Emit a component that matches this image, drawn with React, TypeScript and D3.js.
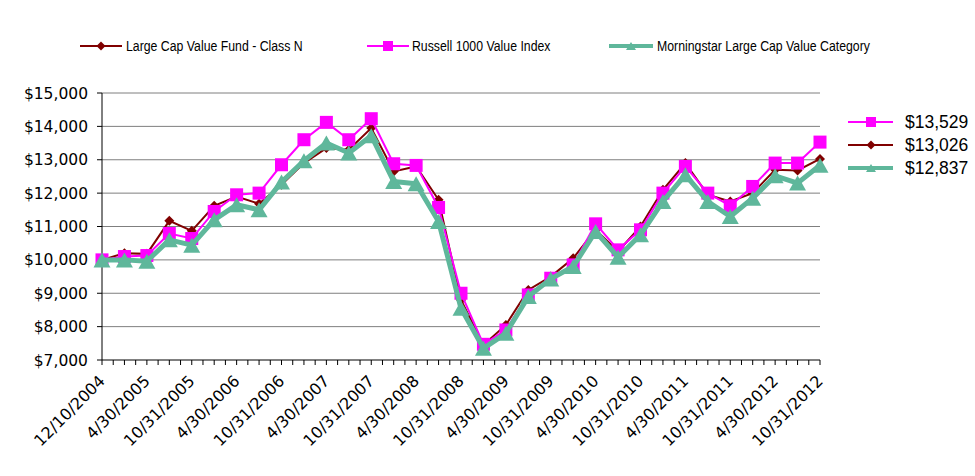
import React from "react";
import * as d3 from "d3";

const dates = ["12/10/2004","1/31/2005","4/30/2005","7/31/2005","10/31/2005","1/31/2006","4/30/2006","7/31/2006","10/31/2006","1/31/2007","4/30/2007","7/31/2007","10/31/2007","1/31/2008","4/30/2008","7/31/2008","10/31/2008","1/31/2009","4/30/2009","7/31/2009","10/31/2009","1/31/2010","4/30/2010","7/31/2010","10/31/2010","1/31/2011","4/30/2011","7/31/2011","10/31/2011","1/31/2012","4/30/2012","7/31/2012","10/31/2012"];

const fundValues = [10000,10200,10180,11170,10870,11620,11900,11680,12250,12900,13350,13300,13950,12650,12800,11800,8800,7450,8050,9100,9500,10050,10900,10250,11000,12100,12900,11950,11750,12000,12700,12680,13026];
const russellValues = [10000,10100,10130,10790,10640,11450,11950,12000,12850,13600,14120,13600,14230,12880,12830,11570,9000,7470,7900,8950,9450,9850,11080,10300,10900,12000,12800,12000,11620,12200,12900,12900,13529];
const morningstarValues = [10000,10000,9960,10600,10440,11200,11650,11500,12330,12970,13500,13200,13720,12350,12280,11150,8550,7350,7800,8900,9430,9800,10850,10080,10750,11750,12550,11750,11300,11850,12520,12300,12837];

const seriesNames = ["Large Cap Value Fund - Class N", "Russell 1000 Value Index", "Morningstar Large Cap Value Category"];
const endLabels = ["$13,529", "$13,026", "$12,837"];
const yTicks = [7000, 8000, 9000, 10000, 11000, 12000, 13000, 14000, 15000];

const FUND = "#800000";
const RUSSELL = "#FF00FF";
const MS = "#5FB79B";

const x = d3.scaleLinear().domain([0, dates.length - 1]).range([102, 820]);
const y = d3.scaleLinear().domain([7000, 15000]).range([360, 93]);
const fmt = (v: number) => "$" + d3.format(",")(v);

function Diamond({ cx, cy, r, color }: { cx: number; cy: number; r: number; color: string }) {
  return <path d={`M${cx},${cy - r}L${cx + r},${cy}L${cx},${cy + r}L${cx - r},${cy}Z`} fill={color} />;
}
function Square({ cx, cy, s, color }: { cx: number; cy: number; s: number; color: string }) {
  return <rect x={cx - s / 2} y={cy - s / 2} width={s} height={s} fill={color} />;
}
function Tri({ cx, cy, w, h, color }: { cx: number; cy: number; w: number; h: number; color: string }) {
  return <path d={`M${cx},${cy - h / 2}L${cx + w / 2},${cy + h / 2}L${cx - w / 2},${cy + h / 2}Z`} fill={color} />;
}

export default function App() {
  const line = d3.line<number>().x((_, i) => x(i)).y((v) => y(v));
  const halfTicks = d3.range(0, (dates.length - 1) * 2 + 1).map((i) => i / 2);
  const narrow = "'Liberation Sans', Arial, sans-serif";
  const gothic = "'DejaVu Sans', sans-serif";

  const legendTop = [
    { lx0: 80, lx1: 122, tx: 126, name: seriesNames[0], kind: "fund" },
    { lx0: 367, lx1: 409, tx: 412, name: seriesNames[1], kind: "russell" },
    { lx0: 609, lx1: 653, tx: 657, name: seriesNames[2], kind: "ms" },
  ];
  const legendRight = [
    { yy: 122, label: endLabels[0], kind: "russell" },
    { yy: 145, label: endLabels[1], kind: "fund" },
    { yy: 168, label: endLabels[2], kind: "ms" },
  ];

  const marker = (kind: string, cx: number, cy: number, small: boolean) => {
    if (kind === "fund") return <Diamond cx={cx} cy={cy} r={small ? 4.5 : 5} color={FUND} />;
    if (kind === "russell") return <Square cx={cx} cy={cy} s={small ? 10 : 13} color={RUSSELL} />;
    return <Tri cx={cx} cy={cy} w={small ? 10 : 17} h={small ? 8 : 15} color={MS} />;
  };
  const lineStyle = (kind: string) =>
    kind === "fund" ? { stroke: FUND, w: 2 } : kind === "russell" ? { stroke: RUSSELL, w: 2 } : { stroke: MS, w: 5 };

  return (
    <svg width={975} height={476} style={{ position: "absolute", left: 0, top: 0, background: "#fff" }}>
      {/* top legend */}
      {legendTop.map((l) => {
        const st = lineStyle(l.kind);
        return (
          <g key={l.name}>
            <line x1={l.lx0} x2={l.lx1} y1={46} y2={46} stroke={st.stroke} strokeWidth={l.kind === "ms" ? 4 : 2} />
            {marker(l.kind, (l.lx0 + l.lx1) / 2, 46, true)}
            <text
              transform={`translate(${l.tx},51) scale(0.82,1)`}
              fontFamily={narrow}
              fontSize={15}
              fill="#000"
            >
              {l.name}
            </text>
          </g>
        );
      })}

      {/* gridlines */}
      {yTicks.slice(1).map((t) => (
        <line key={t} x1={102} x2={820} y1={y(t)} y2={y(t)} stroke="#7f7f7f" strokeWidth={1} />
      ))}

      {/* y axis */}
      <line x1={102} x2={102} y1={y(15000)} y2={y(7000)} stroke="#000" strokeWidth={1} />
      {yTicks.map((t) => (
        <g key={t}>
          <line x1={97} x2={102} y1={y(t)} y2={y(t)} stroke="#000" />
          <text x={88} y={y(t)} dy="0.36em" textAnchor="end" fontFamily={gothic} fontSize={15.5} fill="#000">
            {fmt(t)}
          </text>
        </g>
      ))}

      {/* x axis */}
      <line x1={102} x2={820} y1={y(7000)} y2={y(7000)} stroke="#000" strokeWidth={1} />
      {halfTicks.map((t) => (
        <line key={t} x1={x(t)} x2={x(t)} y1={y(7000)} y2={y(7000) + 5} stroke="#000" />
      ))}
      {dates.map((d, i) =>
        i % 2 === 0 ? (
          <text
            key={d}
            transform={`translate(${x(i) + 4},382) rotate(-45)`}
            textAnchor="end"
            fontFamily={gothic}
            fontSize={16}
            fill="#000"
          >
            {d}
          </text>
        ) : null
      )}

      {/* series */}
      <path d={line(fundValues) || ""} fill="none" stroke={FUND} strokeWidth={2} />
      {fundValues.map((v, i) => (
        <Diamond key={i} cx={x(i)} cy={y(v)} r={5} color={FUND} />
      ))}
      <path d={line(russellValues) || ""} fill="none" stroke={RUSSELL} strokeWidth={2} />
      {russellValues.map((v, i) => (
        <Square key={i} cx={x(i)} cy={y(v)} s={13} color={RUSSELL} />
      ))}
      <path d={line(morningstarValues) || ""} fill="none" stroke={MS} strokeWidth={5} strokeLinejoin="round" />
      {morningstarValues.map((v, i) => (
        <Tri key={i} cx={x(i)} cy={y(v)} w={17} h={15} color={MS} />
      ))}

      {/* right legend */}
      {legendRight.map((l) => {
        const st = lineStyle(l.kind);
        return (
          <g key={l.label}>
            <line x1={848} x2={893} y1={l.yy} y2={l.yy} stroke={st.stroke} strokeWidth={l.kind === "ms" ? 4 : 2} />
            {marker(l.kind, 871, l.yy, true)}
            <text x={905} y={l.yy} dy="0.36em" fontFamily={narrow} fontSize={17.5} fill="#000">
              {l.label}
            </text>
          </g>
        );
      })}
    </svg>
  );
}
